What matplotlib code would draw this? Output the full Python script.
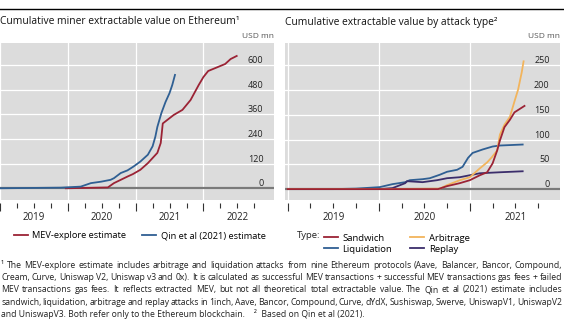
import matplotlib
matplotlib.use("Agg")
import matplotlib.pyplot as plt
from matplotlib.ticker import FixedLocator, FuncFormatter
from matplotlib.lines import Line2D

plt.rcParams['font.family'] = ['Open Sans', 'DejaVu Sans']

# left panel: cumulative MEV, USD mn (decimal years)
mev_t = [2019.97, 2020.30, 2020.59, 2020.68, 2020.78, 2020.88, 2020.96, 2021.07,
         2021.18, 2021.25, 2021.32, 2021.37, 2021.40, 2021.56, 2021.69, 2021.81,
         2021.93, 2022.00, 2022.07, 2022.21, 2022.32, 2022.40, 2022.49]
mev_v = [0, 2, 4, 25, 41, 57, 69, 90, 122, 147, 172, 220, 315, 356, 381, 429,
         502, 541, 570, 589, 604, 628, 643]
qin_t = [2019.0, 2019.90, 2020.19, 2020.34, 2020.49, 2020.63, 2020.68, 2020.78,
         2020.88, 2020.97, 2021.07, 2021.18, 2021.25, 2021.29, 2021.32, 2021.38,
         2021.44, 2021.50, 2021.54, 2021.58]
qin_v = [0, 3, 8, 25, 32, 41, 49, 74, 87, 106, 130, 163, 204, 250, 298, 366,
         419, 463, 502, 551]

# right panel: by attack type, USD mn
sand_t = [2019.0, 2020.0, 2020.65, 2020.75, 2020.89, 2021.0, 2021.11, 2021.19,
          2021.25, 2021.30, 2021.33, 2021.38, 2021.44, 2021.49, 2021.60]
sand_v = [0, 0, 0, 6, 12, 18, 28, 34, 52, 78, 98, 125, 140, 155, 168]
arb_t = [2019.0, 2020.0, 2020.67, 2020.75, 2020.89, 2021.0, 2021.11, 2021.19,
         2021.24, 2021.30, 2021.33, 2021.38, 2021.44, 2021.49, 2021.53, 2021.57, 2021.59]
arb_v = [0, 0, 1, 8, 18, 24, 42, 54, 64, 78, 110, 130, 146, 177, 201, 236, 258]
liq_t = [2019.0, 2019.5, 2019.75, 2020.01, 2020.15, 2020.29, 2020.34, 2020.48,
         2020.56, 2020.67, 2020.75, 2020.86, 2020.92, 2020.98, 2021.03, 2021.14,
         2021.25, 2021.33, 2021.58]
liq_v = [0, 0, 1, 4, 10, 14, 18, 20, 22, 29, 35, 39, 45, 63, 73, 80, 86, 88, 90]
rep_t = [2019.0, 2019.75, 2020.01, 2020.15, 2020.29, 2020.31, 2020.48, 2020.64,
         2020.75, 2020.89, 2021.0, 2021.11, 2021.33, 2021.58]
rep_v = [0, 0, 0, 2, 12, 16, 14, 18, 22, 24, 28, 32, 34, 36]

left_yticks = [0, 120, 240, 360, 480, 600]
right_yticks = [0, 50, 100, 150, 200, 250]
left_years = [2019, 2020, 2021, 2022]
right_years = [2019, 2020, 2021]

footnote = [
    "\u00b9  The MEV-explore estimate includes arbitrage and liquidation attacks from nine Ethereum protocols (Aave, Balancer, Bancor, Compound,",
    "Cream, Curve, Uniswap V2, Uniswap v3 and 0x). It is calculated as successful MEV transactions + successful MEV transactions gas fees + failed",
    "MEV transactions gas fees. It reflects extracted MEV, but not all theoretical total extractable value. The Qin et al (2021) estimate includes",
    "sandwich, liquidation, arbitrage and replay attacks in 1inch, Aave, Bancor, Compound, Curve, dYdX, Sushiswap, Swerve, UniswapV1, UniswapV2",
    "and UniswapV3. Both refer only to the Ethereum blockchain.    \u00b2  Based on Qin et al (2021).",
]

RED = '#9b2335'
BLUE = '#2f5f93'
ORANGE = '#f2b45c'
PURPLE = '#3b2d6b'
BG = '#dcdcdc'

W, H = 564, 324
fig = plt.figure(figsize=(W / 100, H / 100), dpi=100)


def px(x0, y0, x1, y1):
    return [x0 / W, 1 - y1 / H, (x1 - x0) / W, (y1 - y0) / H]


def style_axis(ax, years, yticks, ylim, xlim):
    ax.set_facecolor(BG)
    for s in ax.spines.values():
        s.set_visible(False)
    ax.spines['bottom'].set_visible(True)
    ax.spines['bottom'].set_color('none')
    ax.spines['bottom'].set_position(('outward', 2))
    ax.set_xlim(*xlim)
    ax.set_ylim(*ylim)
    ax.xaxis.set_major_locator(FixedLocator(years))
    quarters = [y + q for y in years for q in (0.25, 0.5, 0.75)]
    ax.xaxis.set_minor_locator(FixedLocator(quarters))
    ax.xaxis.set_major_formatter(FuncFormatter(lambda v, p: ''))
    ax.xaxis.set_minor_formatter(
        FuncFormatter(lambda v, p: str(int(v)) if abs(v % 1 - 0.5) < 1e-6 else ''))
    ax.tick_params(axis='x', which='major', length=6, width=0.8, color='#333333')
    ax.tick_params(axis='x', which='minor', length=3.6, width=0.8, color='#333333',
                   labelsize=7, pad=3, labelcolor='#222222')
    ax.grid(axis='x', which='major', color='white', lw=0.9)
    ax.set_yticks(yticks)
    ax.grid(axis='y', color='white', lw=0.9)
    ax.set_axisbelow(True)
    ax.yaxis.tick_right()
    ax.tick_params(axis='y', length=0, pad=-7.5, labelsize=6.5, labelcolor='#222222')
    for lab in ax.get_yticklabels():
        lab.set_horizontalalignment('right')
        lab.set_verticalalignment('bottom')
    ax.axhline(0, color='#7a7a7a', lw=1.6, zorder=1.5)


# left panel
ax1 = fig.add_axes(px(0, 43, 274, 200))
style_axis(ax1, left_years, left_yticks, (-57, 706), (2019.0, 2023.04))
ax1.plot(mev_t, mev_v, color=RED, lw=1.3, label='MEV-explore estimate')
ax1.plot(qin_t, qin_v, color=BLUE, lw=1.3, label='Qin et al (2021) estimate')
ax1.legend(loc='center left', bbox_to_anchor=(9 / W, 1 - 236 / H),
           bbox_transform=fig.transFigure, ncol=2, frameon=False, fontsize=6.7,
           handlelength=1.5, handletextpad=0.5, columnspacing=1.7, borderpad=0)

# right panel
ax2 = fig.add_axes(px(285, 43, 560, 200))
style_axis(ax2, right_years, right_yticks, (-22, 295), (2018.97, 2021.99))
ax2.plot(sand_t, sand_v, color=RED, lw=1.3, label='Sandwich', zorder=3)
ax2.plot(liq_t, liq_v, color=BLUE, lw=1.3, label='Liquidation', zorder=2.6)
ax2.plot(arb_t, arb_v, color=ORANGE, lw=1.3, label='Arbitrage', zorder=2.8)
ax2.plot(rep_t, rep_v, color=PURPLE, lw=1.3, label='Replay', zorder=2.7)
ax2.legend(loc='upper left', bbox_to_anchor=(319 / W, 1 - 229 / H),
           bbox_transform=fig.transFigure, ncol=2, frameon=False, fontsize=6.8,
           handlelength=1.5, handletextpad=0.5, columnspacing=1.9,
           labelspacing=0.2, borderpad=0)
fig.text(297 / W, 1 - 236 / H, 'Type:', fontsize=6.8, va='center', color='#222222')

# titles and units
fig.text(0, 1 - 22 / H, 'Cumulative miner extractable value on Ethereum\u00b9',
         fontsize=7.4, va='center', color='#111111')
fig.text(285 / W, 1 - 22 / H, 'Cumulative extractable value by attack type\u00b2',
         fontsize=7.4, va='center', color='#111111')
fig.text(274 / W, 1 - 37 / H, 'USD mn', fontsize=6, va='center', ha='right', color='#555555')
fig.text(560 / W, 1 - 37 / H, 'USD mn', fontsize=6, va='center', ha='right', color='#555555')
fig.add_artist(Line2D([0, 1], [1 - 9 / H, 1 - 9 / H], color='black', lw=1.0))

# footnotes, justified to the full width
renderer = fig.canvas.get_renderer()
x_left, x_right = 1, 562
fsize = 6.2
for i, line in enumerate(footnote):
    y = 1 - (268 + i * 12.2) / H
    if i == len(footnote) - 1:
        fig.text(x_left / W, y, line, fontsize=fsize, va='baseline', color='#222222')
        continue
    words = line.split()
    texts = [fig.text(0, y, w, fontsize=fsize, va='baseline', color='#222222') for w in words]
    widths = [t.get_window_extent(renderer).width for t in texts]
    gap = (x_right - x_left - sum(widths)) / (len(words) - 1)
    x = x_left
    for t, w in zip(texts, widths):
        t.set_x(x / W)
        x += w + gap

fig.savefig('out.png', dpi=100)
